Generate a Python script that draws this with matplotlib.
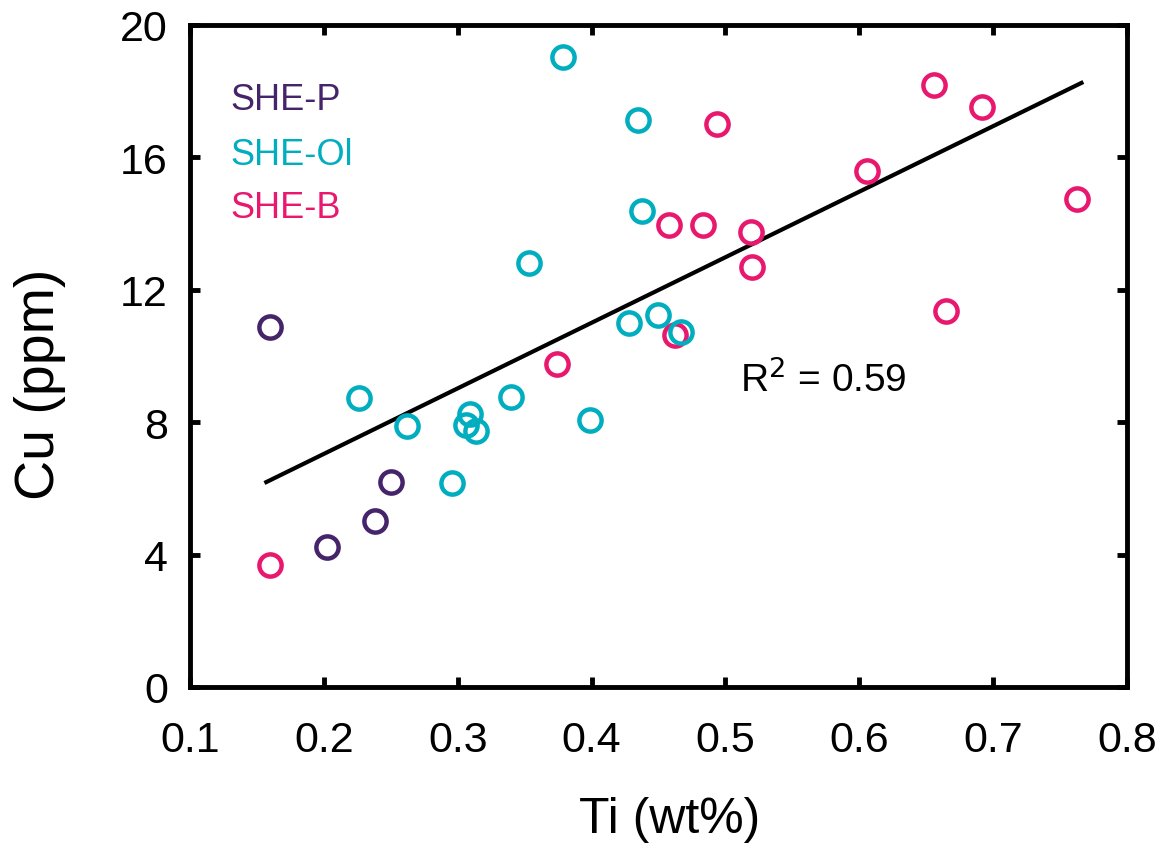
import numpy as np
import matplotlib.pyplot as plt

# data
ti_p = [0.160, 0.250, 0.238, 0.202]
cu_p = [10.88, 6.19, 5.02, 4.23]

ti_ol = [0.379, 0.435, 0.438, 0.353, 0.428, 0.450, 0.467, 0.226, 0.340,
         0.309, 0.306, 0.314, 0.262, 0.296, 0.399]
cu_ol = [19.03, 17.13, 14.38, 12.81, 11.00, 11.24, 10.72, 8.73, 8.76,
         8.25, 7.92, 7.73, 7.89, 6.16, 8.07]

ti_b = [0.656, 0.692, 0.494, 0.606, 0.763, 0.458, 0.483, 0.519, 0.520,
        0.665, 0.374, 0.462, 0.160]
cu_b = [18.19, 17.52, 17.01, 15.59, 14.74, 13.96, 13.96, 13.75, 12.69,
        11.36, 9.76, 10.63, 3.69]

# regression line end points
line_x = [0.157, 0.766]
line_y = [6.19, 18.25]

c_p = '#45246a'
c_ol = '#00aec0'
c_b = '#e8186e'

plt.rcParams['font.family'] = ['Liberation Sans', 'DejaVu Sans']

fig = plt.figure(figsize=(11.67, 8.54), dpi=100)
ax = fig.add_axes([0.1628, 0.1944, 0.8029, 0.7752])

ax.plot(line_x, line_y, color='black', lw=3, zorder=1)

mk = dict(marker='o', ls='none', markersize=16, mfc='none', mew=3.2)
ax.plot(ti_b, cu_b, mec=c_b, **mk)
ax.plot(ti_p, cu_p, mec=c_p, **mk)
ax.plot(ti_ol, cu_ol, mec=c_ol, **mk)

ax.set_xlim(0.1, 0.8)
ax.set_ylim(0, 20)
ax.set_xticks(np.arange(0.1, 0.81, 0.1))
ax.set_xticklabels(['0.1', '0.2', '0.3', '0.4', '0.5', '0.6', '0.7', '0.8'])
ax.set_yticks([0, 4, 8, 12, 16, 20])

for s in ax.spines.values():
    s.set_linewidth(3.5)
ax.tick_params(direction='in', length=7, width=3.5, top=True, right=True,
               labelsize=31)
ax.tick_params(axis='x', pad=24)
ax.tick_params(axis='y', pad=16)

ax.set_xlabel('Ti (wt%)', fontsize=36, va='center')
ax.xaxis.set_label_coords(0.512, -0.199)
ax.set_ylabel('Cu (ppm)', fontsize=40, va='center', ha='center')
ax.yaxis.set_label_coords(-0.160, 0.459)

ax.text(0.043, 0.887, 'SHE-P', color=c_p, fontsize=26,
        transform=ax.transAxes, va='center')
ax.text(0.043, 0.805, 'SHE-Ol', color=c_ol, fontsize=26,
        transform=ax.transAxes, va='center')
ax.text(0.043, 0.724, 'SHE-B', color=c_b, fontsize=26,
        transform=ax.transAxes, va='center')

ax.text(0.587, 0.465, 'R$^2$ = 0.59', fontsize=28, transform=ax.transAxes,
        va='center')

plt.savefig('out.png', dpi=100)
